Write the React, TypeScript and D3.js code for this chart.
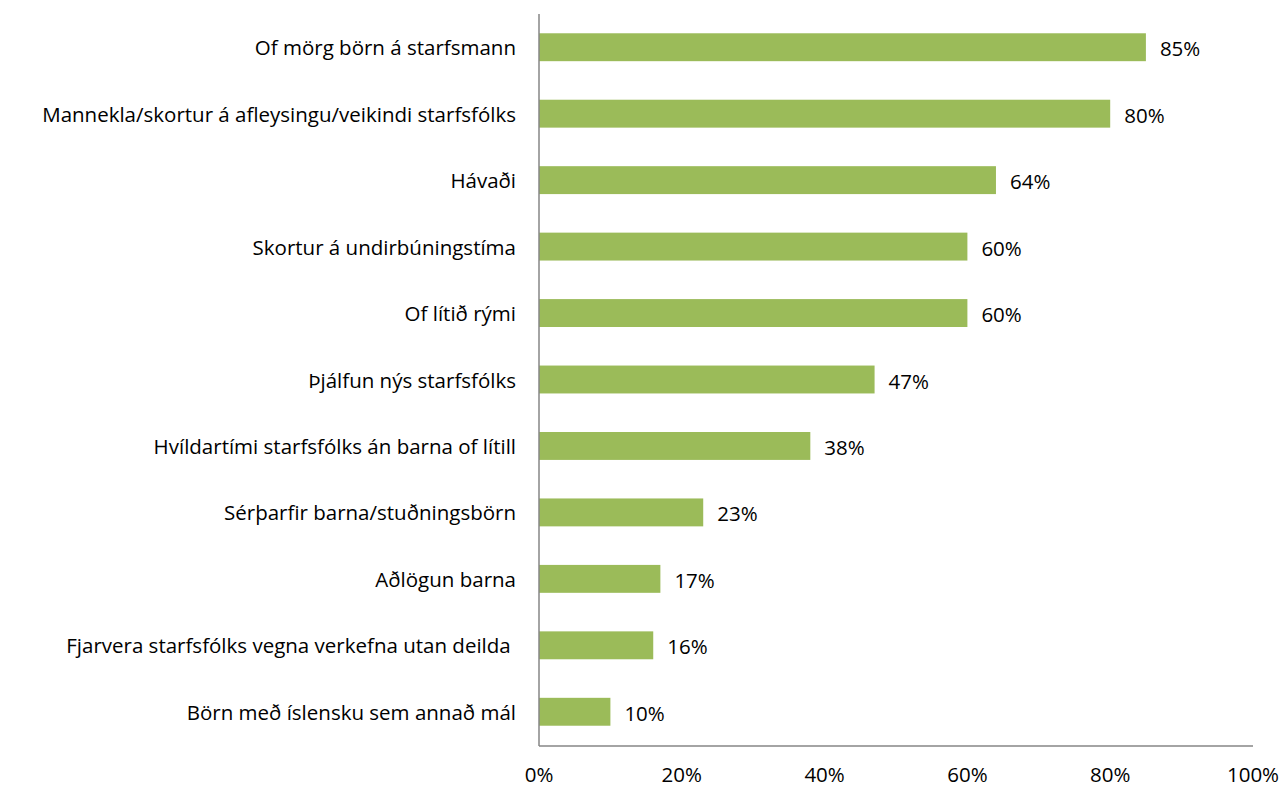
import React from "react";
import * as d3 from "d3";

const categories = [
  "Of mörg börn á starfsmann",
  "Mannekla/skortur á afleysingu/veikindi starfsfólks",
  "Hávaði",
  "Skortur á undirbúningstíma",
  "Of lítið rými",
  "Þjálfun nýs starfsfólks",
  "Hvíldartími starfsfólks án barna of lítill",
  "Sérþarfir barna/stuðningsbörn",
  "Aðlögun barna",
  "Fjarvera starfsfólks vegna verkefna utan deilda ",
  "Börn með íslensku sem annað mál",
];
const values = [85, 80, 64, 60, 60, 47, 38, 23, 17, 16, 10];
const ticks = [0, 20, 40, 60, 80, 100];

const W = 1284;
const H = 787;
const left = 539;
const right = 1253;
const top = 14;
const bottom = 745;
const font = "'Open Sans', sans-serif";
const fs = 20.5;

export default function App() {
  const x = d3.scaleLinear().domain([0, 100]).range([left, right]);
  const y = d3
    .scaleBand<string>()
    .domain(categories)
    .range([top, bottom])
    .paddingInner(0.58)
    .paddingOuter(0.29);

  return (
    <svg
      width={W}
      height={H}
      style={{ position: "absolute", left: 0, top: 0, background: "#fff" }}
      fontFamily={font}
    >
      {categories.map((c, i) => {
        const yc = (y(c) as number) + y.bandwidth() / 2;
        return (
          <g key={c}>
            <rect
              x={x(0)}
              y={y(c)}
              width={x(values[i]) - x(0)}
              height={y.bandwidth()}
              fill="#9BBB59"
            />
            <text
              x={left - 23}
              y={yc}
              textAnchor="end"
              dominantBaseline="central"
              fontSize={fs}
              fill="#000"
              style={{ whiteSpace: "pre" }}
            >
              {c}
            </text>
            <text
              x={x(values[i]) + 14}
              y={yc + 1}
              dominantBaseline="central"
              fontSize={fs}
              fill="#000"
            >
              {values[i] + "%"}
            </text>
          </g>
        );
      })}
      <line x1={left} x2={left} y1={top} y2={bottom + 1} stroke="#868686" strokeWidth={1.5} />
      <line x1={left} x2={right} y1={bottom + 1} y2={bottom + 1} stroke="#868686" strokeWidth={1.5} />
      {ticks.map((t) => (
        <text
          key={t}
          x={x(t)}
          y={774}
          textAnchor="middle"
          dominantBaseline="central"
          fontSize={fs}
          fill="#000"
        >
          {t + "%"}
        </text>
      ))}
    </svg>
  );
}
